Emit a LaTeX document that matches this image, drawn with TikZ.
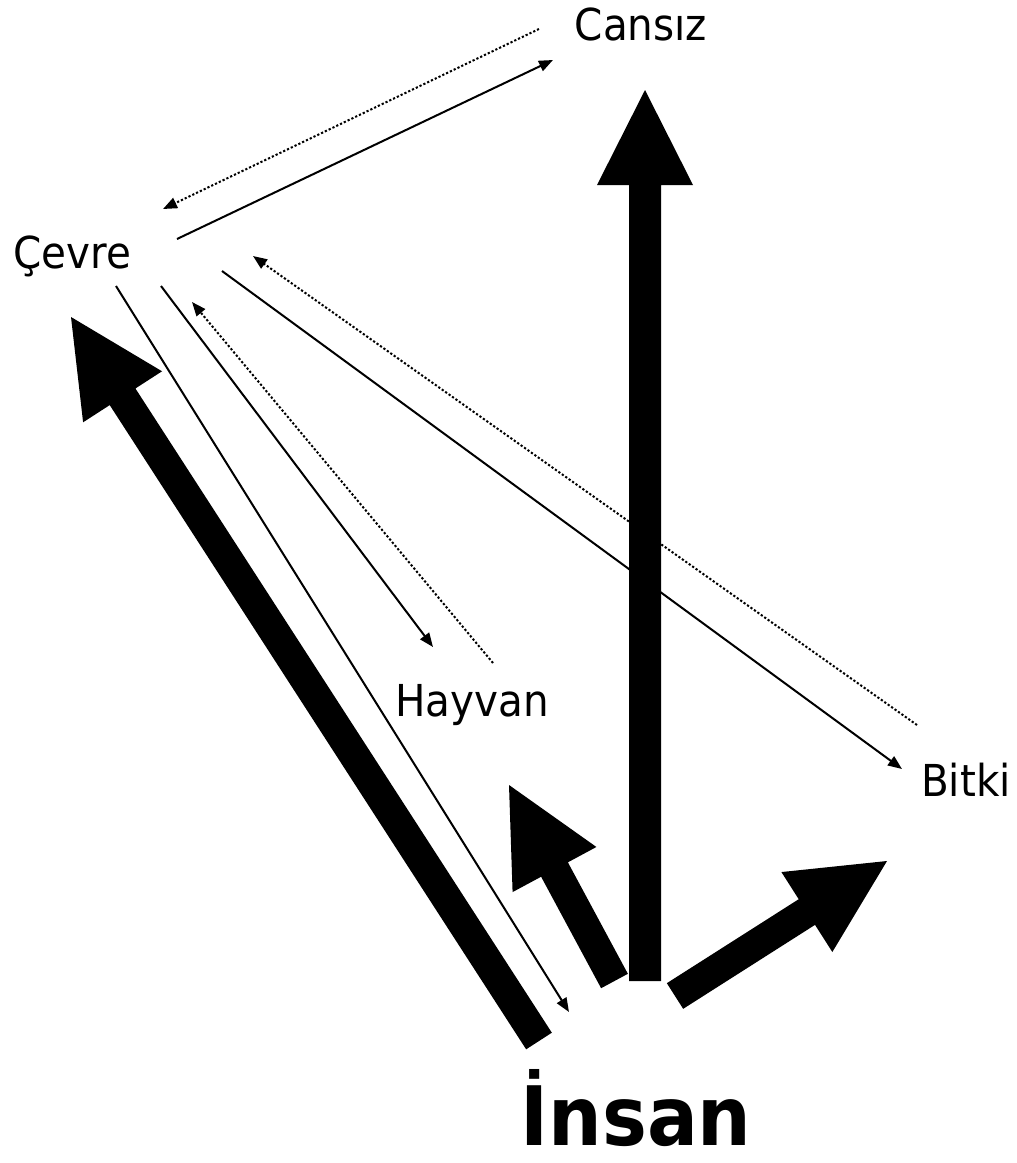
\documentclass[tikz,border=0pt]{standalone}
\usepackage{fontspec}
\setmainfont{DejaVu Sans}[FakeStretch=0.92]
\usetikzlibrary{arrows.meta,calc}
\newcommand\myblockarrow[5]{%
  \coordinate (bah) at ($(#2)!#4!(#1)$);
  \fill ($(#1)!#3!90:(#2)$) -- ($(bah)!#3!90:(#2)$) -- ($(bah)!#5!90:(#2)$) -- (#2)
    -- ($(bah)!#5!-90:(#2)$) -- ($(bah)!#3!-90:(#2)$) -- ($(#1)!#3!-90:(#2)$) -- cycle;}
\begin{document}
\begin{tikzpicture}[x=1pt,y=-1pt,
  lbl/.style={anchor=base,inner sep=0pt,font=\fontsize{44}{50}\selectfont},
  big/.style={anchor=base,inner sep=0pt,font=\fontsize{82}{88}\selectfont\bfseries},
  thin/.style={line width=2pt,-{Triangle[length=14pt,width=11pt]}},
  dots/.style={thin,dash pattern=on 2.2pt off 2pt}]
\useasboundingbox[fill=white] (0,0) rectangle (1017,1163);
% labels
\node[lbl] (cansiz) at (641,40) {Cansız};
\node[lbl] (cevre) at (72,268) {Çevre};
\node[lbl] (hayvan) at (472,716) {Hayvan};
\node[lbl] (bitki) at (966,796) {Bitki};
\node[big] (insan) at (636,1145) {İnsan};
% connector end points
\coordinate (c1a) at (177,239); \coordinate (c1b) at (553,60);
\coordinate (c2a) at (539,29);  \coordinate (c2b) at (163,209);
\coordinate (c3a) at (161,286); \coordinate (c3b) at (433,647);
\coordinate (c4a) at (493,663); \coordinate (c4b) at (192,302);
\coordinate (c5a) at (222,271); \coordinate (c5b) at (902,769);
\coordinate (c6a) at (917,725); \coordinate (c6b) at (253,256);
\coordinate (c7a) at (116,286); \coordinate (c7b) at (569,1012);
\draw[thin] (c1a) -- (c1b);
\draw[dots] (c2a) -- (c2b);
\draw[thin] (c3a) -- (c3b);
\draw[dots] (c4a) -- (c4b);
\draw[thin] (c5a) -- (c5b);
\draw[dots] (c6a) -- (c6b);
\draw[thin] (c7a) -- (c7b);
% block arrows
\coordinate (vA) at (645,981);   \coordinate (vB) at (645,90);
\coordinate (sA) at (614.5,981); \coordinate (sB) at (509,785);
\coordinate (eA) at (675,996);   \coordinate (eB) at (887,861);
\coordinate (wA) at (539,1041);  \coordinate (wB) at (71,317);
\myblockarrow{vA}{vB}{16pt}{95pt}{48pt}
\myblockarrow{sA}{sB}{15.2pt}{96pt}{47.6pt}
\myblockarrow{eA}{eB}{15.2pt}{95pt}{47.4pt}
\myblockarrow{wA}{wB}{15.3pt}{95pt}{47pt}
\end{tikzpicture}
\end{document}
